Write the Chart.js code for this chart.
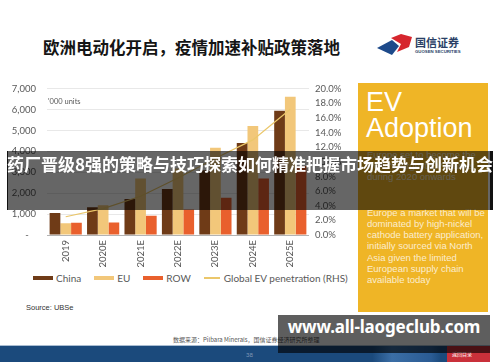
<!DOCTYPE html>
<html>
<head>
<meta charset="utf-8">
<script src="https://cdn.jsdelivr.net/npm/chart.js@4.4.1/dist/chart.umd.min.js"></script>
<style>
  html,body{margin:0;padding:0;}
  body{width:500px;height:362px;position:relative;overflow:hidden;background:#fff;font-family:Lato,"Noto Sans",sans-serif;}
  .abs{position:absolute;white-space:nowrap;}
  #legend{position:absolute;left:33px;top:272px;height:12px;display:flex;align-items:center;font:10px Lato,sans-serif;color:#595959;}
  #legend .item{display:flex;align-items:center;margin-right:13px;}
  #legend .sw{display:inline-block;width:20px;height:4px;margin-right:3px;}
  #legend .ln{display:inline-block;width:16px;height:1.3px;margin-right:4px;}
</style>
</head>
<body>
<script>
// ---- data ----
const categories = ['2019', '2020E', '2021E', '2022E', '2023E', '2024E', '2025E'];
const chinaUnits = [1050, 1330, 1720, 2200, 3100, 4400, 5950];
const euUnits = [560, 1420, 2700, 3180, 4170, 5220, 6620];
const rowUnits = [590, 600, 920, 1220, 1780, 2700, 3300];
const evPenetration = [2.5, 3.6, 5.3, 7.8, 10.5, 13.0, 17.2];
const leftTickMax = 7000, leftTickStep = 1000;
const rightTickMax = 20, rightTickStep = 2;
const seriesLabels = ['China', 'EU', 'ROW', 'Global EV penetration (RHS)'];
</script>

<div class="abs" style="left:43px;top:35px;font:bold 16.5px 'Noto Sans CJK SC';color:#151515;line-height:24px;">欧洲电动化开启，疫情加速补贴政策落地</div>

<svg class="abs" style="left:0;top:0" width="500" height="70">
  <polygon points="377,48 392,40 399,46 392,55" fill="#1d4a8a"/>
  <polygon points="391,38 401,34 412,37 409,47 397,52 401,44" fill="#d6262e"/>
</svg>
<div class="abs" style="left:415px;top:35px;font:bold 11px 'Noto Sans CJK SC';color:#2a3f66;line-height:14px;">国信证券</div>
<div class="abs" style="left:415px;top:49px;font:bold 4.3px 'Liberation Sans';color:#2a3f66;line-height:5px;">GUOSEN SECURITIES</div>

<div class="abs" style="left:0;top:72px;width:355px;height:200px;">
  <canvas id="c" width="355" height="200"></canvas>
</div>
<div class="abs" style="left:48px;top:97px;font:7.5px Lato,sans-serif;color:#595959;">'000 units</div>
<div id="legend"></div>

<div class="abs" style="left:358px;top:83px;width:130px;height:229px;background:#EFB526;"></div>
<div class="abs" style="left:366px;top:89px;font:27px 'Liberation Sans';color:#fff;line-height:26px;">EV<br>Adoption</div>
<div class="abs" style="left:367px;top:148.5px;font:9.5px 'Liberation Sans';color:rgba(255,255,255,0.78);line-height:11.3px;">Europe set to become the<br>world's largest EV market<br>during 2020 onwards</div>
<div class="abs" style="left:367px;top:206.5px;font:9.5px 'Liberation Sans';color:rgba(255,255,255,0.78);line-height:11.3px;">Europe a market that will be<br>dominated by high-nickel<br>cathode battery application,<br>initially sourced via North<br>Asia given the limited<br>European supply chain<br>available today</div>

<div class="abs" style="left:26px;top:303px;font:7.5px 'Liberation Sans';color:#333;">Source: UBSe</div>
<div class="abs" style="left:173px;top:335px;font:6px 'Noto Sans CJK SC';color:#555;">数据来源：Pilbara Minerals，国信证券经济研究所整理</div>

<div class="abs" style="left:0;top:345px;width:490px;height:1px;background:#a9bdd2;"></div>
<div class="abs" style="left:0;top:346px;width:490px;height:16px;background:linear-gradient(90deg,#1b4a7c 0%,#1b4a7c 76%,#3b6ea6 80%,#2a5b93 88%,#1b4a7c 90%);"></div>
<div class="abs" style="left:447px;top:346px;width:43px;height:16px;background:#c9303a;"></div>
<div class="abs" style="left:452px;top:350px;font:5px 'Noto Sans CJK SC';color:#fff;line-height:8px;">返回目录</div>
<div class="abs" style="left:246px;top:351px;font:6px Lato;color:#7f96b4;line-height:8px;">38</div>

<div class="abs" style="left:7px;top:151px;width:486px;height:59px;background:rgba(0,0,0,0.6);border-left:1px solid #111;border-right:3px solid #111;box-sizing:border-box;"></div>
<div class="abs" style="left:0;top:151px;width:500px;height:59px;line-height:59px;text-align:center;font:bold 17px 'Noto Sans CJK SC';color:#fff;">药厂晋级8强的策略与技巧探索如何精准把握市场趋势与创新机会</div>

<div class="abs" style="left:278px;top:315px;width:212px;height:38px;background:rgba(0,0,0,0.63);"></div>
<div class="abs" style="left:278px;top:315px;width:212px;height:38px;line-height:38px;text-align:center;font:bold 17px 'Noto Sans';letter-spacing:-0.2px;color:#fff;">www.all-laogeclub.com</div>

<script>
const colChina = '#6F3B17', colEU = '#F2C77A', colROW = '#E9602D', colLine = '#EBC76B';
const tickFont = {family: 'Lato', size: 9.5};
const tickColor = '#595959';

new Chart(document.getElementById('c'), {
  type: 'bar',
  data: {
    labels: categories,
    datasets: [
      {label: seriesLabels[0], data: chinaUnits, backgroundColor: colChina, yAxisID: 'y', order: 1, categoryPercentage: 0.86, barPercentage: 1.0},
      {label: seriesLabels[1], data: euUnits, backgroundColor: colEU, yAxisID: 'y', order: 1, categoryPercentage: 0.86, barPercentage: 1.0},
      {label: seriesLabels[2], data: rowUnits, backgroundColor: colROW, yAxisID: 'y', order: 1, categoryPercentage: 0.86, barPercentage: 1.0},
      {type: 'line', label: seriesLabels[3], data: evPenetration, borderColor: colLine, borderWidth: 1.2, pointRadius: 0, fill: false, tension: 0, yAxisID: 'y1', order: 0}
    ]
  },
  options: {
    responsive: false,
    animation: false,
    devicePixelRatio: 1,
    layout: {padding: {top: 8, left: 0, right: 0, bottom: 0}},
    plugins: {legend: {display: false}, tooltip: {enabled: false}},
    scales: {
      x: {
        grid: {display: false, drawTicks: false},
        border: {display: false},
        ticks: {autoSkip: false, minRotation: 90, maxRotation: 90, color: tickColor, font: tickFont, padding: 5},
        afterFit(s) { s.height = 37; }
      },
      y: {
        position: 'left', min: 0, max: leftTickMax,
        ticks: {stepSize: leftTickStep, color: tickColor, font: tickFont, padding: 11,
          callback: v => v === 0 ? '-   ' : v.toLocaleString('en-US')},
        grid: {drawTicks: false, color: ctx => ctx.tick && ctx.tick.value === 0 ? '#b3b3b3' : '#e8e8e8', lineWidth: 1},
        border: {display: false},
        afterFit(s) { s.width = 47; }
      },
      y1: {
        position: 'right', min: 0, max: rightTickMax,
        ticks: {stepSize: rightTickStep, color: tickColor, font: tickFont, padding: 6,
          callback: v => v.toFixed(1) + '%'},
        grid: {display: false, drawTicks: false},
        border: {display: false},
        afterFit(s) { s.width = 46; }
      }
    }
  }
});

// legend built from the series
const lg = document.getElementById('legend');
const legendCols = [colChina, colEU, colROW, colLine];
seriesLabels.forEach((lab, i) => {
  const it = document.createElement('div');
  it.className = 'item';
  const sw = document.createElement('span');
  sw.className = i === 3 ? 'ln' : 'sw';
  sw.style.background = legendCols[i];
  const tx = document.createElement('span');
  tx.textContent = lab;
  it.appendChild(sw); it.appendChild(tx);
  lg.appendChild(it);
});
</script>
</body>
</html>
